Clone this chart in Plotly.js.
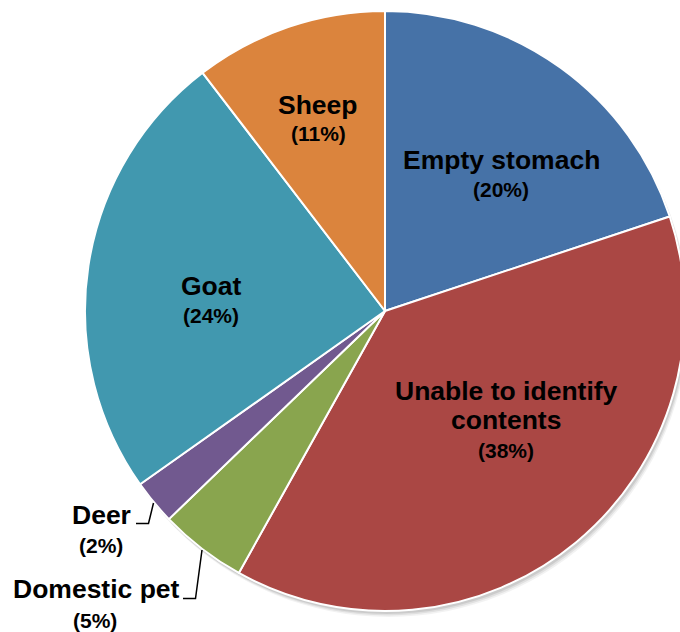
<!DOCTYPE html>
<html>
<head>
<meta charset="utf-8">
<script src="https://cdn.plot.ly/plotly-3.0.1.min.js"></script>
<style>
html, body { margin: 0; padding: 0; overflow: hidden; background: #fff; }
#chart { width: 700px; height: 632px; }
</style>
</head>
<body>
<div id="chart"></div>
<script>
// Data
const categories = ["Empty stomach", "Unable to identify contents", "Domestic pet", "Deer", "Goat", "Sheep"];
const values = [19.9, 38.2, 4.7, 2.4, 24.4, 10.4];
const pctLabels = ["(20%)", "(38%)", "(5%)", "(2%)", "(24%)", "(11%)"];
const nameLines = [["Empty stomach"], ["Unable to identify", "contents"], ["Domestic pet"], ["Deer"], ["Goat"], ["Sheep"]];
const colors = ["#4672A7", "#AA4744", "#89A54E", "#71598F", "#4198AF", "#DB843D"];

const W = 700, H = 632;
const px = x => x / W;
const py = y => 1 - y / H;

// label layout (pixel positions of text centres)
const labelPos = [
  {x: 501, names: [160], pct: 189},
  {x: 506, names: [391, 420], pct: 450},
  {x: 96, names: [589], pct: 620, pctx: 95},
  {x: 101, names: [515], pct: 545},
  {x: 211, names: [286], pct: 315},
  {x: 318, names: [105], pct: 133}
];

const font = "Liberation Sans, Arial, sans-serif";
const annotations = [];
categories.forEach((c, i) => {
  const lp = labelPos[i];
  nameLines[i].forEach((ln, j) => {
    annotations.push({
      text: "<b>" + ln + "</b>", x: px(lp.x), y: py(lp.names[j]),
      xref: "paper", yref: "paper", xanchor: "center", yanchor: "middle",
      showarrow: false, font: {family: font, size: 26.5, color: "#000"}
    });
  });
  annotations.push({
    text: "<b>" + pctLabels[i] + "</b>", x: px(lp.pctx || lp.x), y: py(lp.pct),
    xref: "paper", yref: "paper", xanchor: "center", yanchor: "middle",
    showarrow: false, font: {family: font, size: 21, color: "#000"}
  });
});

function path(pts) {
  return pts.map((p, k) => (k ? "L" : "M") + px(p[0]) + "," + py(p[1])).join(" ");
}

const shapes = [];
// soft shadow under the pie
[[6, 0.05], [4.5, 0.07], [3, 0.09]].forEach(s => {
  shapes.push({
    type: "circle", xref: "paper", yref: "paper", layer: "below",
    x0: px(85 + s[0] * 0.6), x1: px(685 + s[0] * 0.6),
    y0: py(611 + s[0]), y1: py(11 + s[0]),
    fillcolor: "rgba(0,0,0," + s[1] + ")", line: {width: 0}
  });
});
// leader lines
shapes.push({type: "path", xref: "paper", yref: "paper", path: path([[153.5, 503], [148.5, 523.5], [136, 523.5]]), line: {color: "#000", width: 1.5}});
shapes.push({type: "path", xref: "paper", yref: "paper", path: path([[202, 550], [195.5, 598.5], [183, 598.5]]), line: {color: "#000", width: 1.5}});

const trace = {
  type: "pie",
  labels: categories,
  values: values,
  sort: false,
  direction: "clockwise",
  rotation: 0,
  textinfo: "none",
  hoverinfo: "none",
  marker: {colors: colors, line: {color: "#ffffff", width: 2}},
  domain: {x: [px(85), px(685)], y: [py(611), py(11)]},
  showlegend: false
};

Plotly.newPlot("chart", [trace], {
  width: W, height: H,
  margin: {l: 0, r: 0, t: 0, b: 0},
  paper_bgcolor: "#ffffff",
  showlegend: false,
  annotations: annotations,
  shapes: shapes
}, {staticPlot: true});
</script>
</body>
</html>
